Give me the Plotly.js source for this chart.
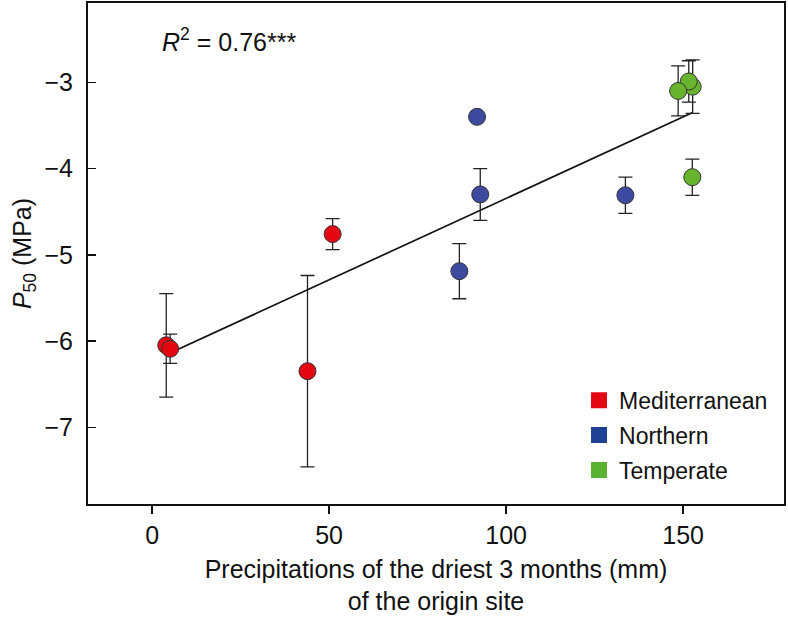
<!DOCTYPE html>
<html>
<head>
<meta charset="utf-8">
<script src="https://cdn.plot.ly/plotly-3.0.1.min.js"></script>
<style>
  body { margin: 0; background: #fff; }
  #plot { width: 788px; height: 619px; }
</style>
</head>
<body>
<div id="plot"></div>
<script>
const medX = [4, 5.1, 43.9, 51];
const medY = [-6.05, -6.09, -6.35, -4.76];
const medErr = [0.6, 0.17, 1.11, 0.18];

const norX = [86.8, 91.8, 92.7, 133.7];
const norY = [-5.19, -3.40, -4.30, -4.31];
const norErr = [0.32, 0, 0.3, 0.21];

const temX = [152.7, 151.6, 148.6, 152.6];
const temY = [-3.05, -2.99, -3.10, -4.10];
const temErr = [0.31, 0.24, 0.29, 0.21];

const fitX = [4, 152.7];
const fitY = [-6.16, -3.35];

const groups = ['Mediterranean', 'Northern', 'Temperate'];
const colors = ['#e30613', '#3c4b9f', '#69b42e'];
const legendColors = ['#e30613', '#1e4193', '#5bb131'];

const font = 'Liberation Sans, Arial, Helvetica, sans-serif';

function pointTrace(x, y, err, color) {
    return {
        x: x, y: y,
        mode: 'markers',
        type: 'scatter',
        showlegend: false,
        error_y: { type: 'data', array: err, visible: true, color: '#222', thickness: 1.3, width: 7 },
        marker: { color: color, size: 17, line: { color: '#333', width: 1 } },
        hoverinfo: 'x+y'
    };
}

const traces = [
    { x: fitX, y: fitY, mode: 'lines', type: 'scatter', showlegend: false,
      line: { color: '#111', width: 1.7 } },
    pointTrace(medX, medY, medErr, colors[0]),
    pointTrace(norX, norY, norErr, colors[1]),
    pointTrace(temX, temY, temErr, colors[2])
];

// square legend keys
groups.forEach((g, i) => {
    traces.push({
        x: [null], y: [null], mode: 'markers', type: 'scatter',
        name: g, legendgroup: g,
        marker: { symbol: 'square', size: 16, color: legendColors[i] }
    });
});

const layout = {
    width: 788,
    height: 619,
    margin: { l: 88, r: 4, t: 3, b: 115 },
    paper_bgcolor: '#fff',
    plot_bgcolor: '#fff',
    font: { family: font, size: 25, color: '#111' },
    showlegend: true,
    legend: {
        x: 0.7055, y: 0.25, xanchor: 'left', yanchor: 'top',
        font: { family: font, size: 23, color: '#111' },
        bgcolor: 'rgba(0,0,0,0)',
        tracegroupgap: 2,
        itemwidth: 30
    },
    xaxis: {
        range: [-18.1, 178.5],
        tickvals: [0, 50, 100, 150],
        ticks: 'outside', ticklen: 8, tickwidth: 1.5, tickcolor: '#111',
        showgrid: false, zeroline: false,
        showline: true, linecolor: '#111', linewidth: 2, mirror: true,
        tickfont: { size: 25 },
        title: { text: 'Precipitations of the driest 3 months (mm)<br>of the origin site',
                 font: { size: 25 }, standoff: 12 }
    },
    yaxis: {
        range: [-7.89, -2.08],
        tickvals: [-7, -6, -5, -4, -3],
        ticks: 'inside', ticklen: 8, tickwidth: 1.5, tickcolor: '#111',
        showgrid: false, zeroline: false,
        showline: true, linecolor: '#111', linewidth: 2, mirror: true,
        tickfont: { size: 25 },
        ticklabelstandoff: 8,
        title: { text: '<i>P</i><sub>50</sub> (MPa)', font: { size: 25 }, standoff: 6 }
    },
    annotations: [{
        xref: 'paper', yref: 'paper', x: 0.103, y: 0.926, xanchor: 'left', yanchor: 'middle',
        text: '<i>R</i><sup>2</sup> = 0.76***', showarrow: false,
        font: { family: font, size: 25, color: '#111' }
    }]
};

Plotly.newPlot('plot', traces, layout, { displayModeBar: false, staticPlot: true });
</script>
</body>
</html>
